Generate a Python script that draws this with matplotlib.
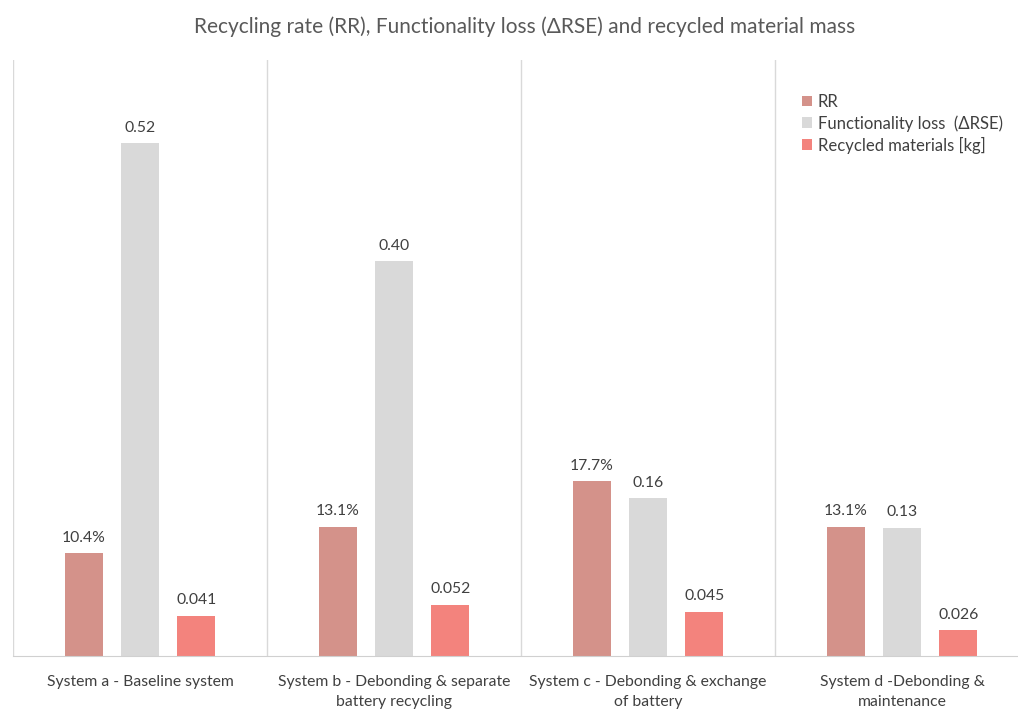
import matplotlib
matplotlib.use("Agg")
import matplotlib.pyplot as plt
import numpy as np

categories = ["System a - Baseline system",
              "System b - Debonding & separate\nbattery recycling",
              "System c - Debonding & exchange\nof battery",
              "System d -Debonding &\nmaintenance"]
series_names = ["RR", "Functionality loss  (\u0394RSE)", "Recycled materials [kg]"]
rr = [0.104, 0.131, 0.177, 0.131]
rse = [0.52, 0.40, 0.16, 0.13]
mass = [0.041, 0.052, 0.045, 0.026]
rr_labels = ["10.4%", "13.1%", "17.7%", "13.1%"]
rse_labels = ["0.52", "0.40", "0.16", "0.13"]
mass_labels = ["0.041", "0.052", "0.045", "0.026"]

colors = ["#d4928a", "#d9d9d9", "#f3837d"]
plt.rcParams['font.family'] = ['Lato', 'DejaVu Sans']

fig = plt.figure(figsize=(10.18, 7.09), dpi=100)
W, H = 1018, 709
left, right, bottom, top = 13, 13 + 4 * 254, 656, 60
ax = fig.add_axes([left / W, (H - bottom) / H, (right - left) / W, (bottom - top) / H])

x = np.arange(len(categories))
step = 0.222
bw = 0.15
for k, (vals, labs) in enumerate([(rr, rr_labels), (rse, rse_labels), (mass, mass_labels)]):
    bars = ax.bar(x + (k - 1) * step, vals, width=bw, color=colors[k], label=series_names[k], zorder=2)
    for b, lab in zip(bars, labs):
        ax.annotate(lab, (b.get_x() + b.get_width() / 2, b.get_height()),
                    xytext=(0, 6), textcoords="offset points", ha="center", va="bottom",
                    fontsize=11.3, color="#404040")

ax.set_xlim(-0.5, 3.5)
ax.set_ylim(0, 0.604)
for xs in [-0.5, 0.5, 1.5, 2.5]:
    ax.axvline(xs, color="#d9d9d9", lw=1.0, zorder=1)
for s in ["top", "right", "left"]:
    ax.spines[s].set_visible(False)
ax.spines["bottom"].set_color("#d0d0d0")
ax.set_yticks([])
ax.set_xticks(x)
ax.set_xticklabels(categories, fontsize=11.3, color="#404040", linespacing=1.55)
ax.tick_params(axis="x", length=0, pad=14)

leg = ax.legend(loc="upper left", bbox_to_anchor=((787 - left) / (right - left), (bottom - 79) / (bottom - top)),
                frameon=False, fontsize=12, handlelength=0.6, handleheight=0.6,
                handletextpad=0.35, labelspacing=0.3, labelcolor="#404040")

fig.text(525 / W, 1 - 27 / H, "Recycling rate (RR), Functionality loss (\u0394RSE) and recycled material mass",
         ha="center", va="center", fontsize=15.0, color="#595959")

fig.savefig("out.png", dpi=100)
